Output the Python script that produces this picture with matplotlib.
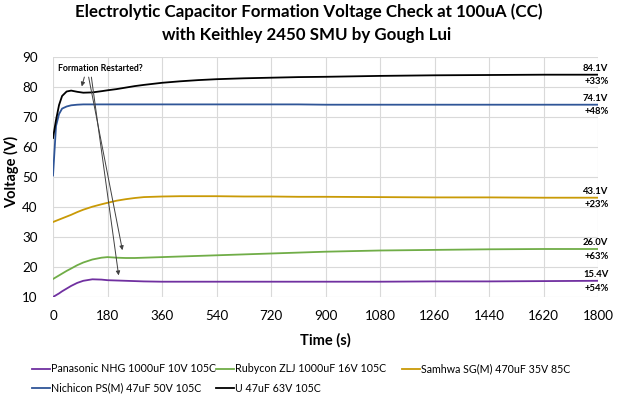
import matplotlib
matplotlib.use("Agg")
import matplotlib.pyplot as plt

plt.rcParams['font.family'] = ['Lato', 'DejaVu Sans']

t = [0, 10, 20, 30, 45, 60, 80, 100, 130, 160, 180, 210, 240, 270, 300, 360,
     420, 480, 540, 630, 720, 810, 900, 1080, 1260, 1440, 1620, 1800]

panasonic = [10.0, 10.6, 11.2, 11.9, 12.8, 13.7, 14.7, 15.4, 15.9, 15.8, 15.6, 15.5, 15.4, 15.3,
             15.2, 15.1, 15.1, 15.1, 15.1, 15.1, 15.1, 15.1, 15.1, 15.1, 15.2, 15.2, 15.3, 15.4]
rubycon = [16.0, 16.6, 17.2, 17.8, 18.7, 19.5, 20.6, 21.5, 22.5, 23.1, 23.3, 23.1, 23.0, 23.0,
           23.1, 23.3, 23.5, 23.7, 23.9, 24.2, 24.5, 24.8, 25.1, 25.5, 25.7, 25.9, 26.0, 26.0]
samhwa = [35.0, 35.4, 35.8, 36.2, 36.8, 37.4, 38.3, 39.1, 40.1, 40.9, 41.4, 42.1, 42.6, 43.0,
          43.3, 43.5, 43.6, 43.6, 43.6, 43.5, 43.5, 43.4, 43.4, 43.3, 43.2, 43.2, 43.1, 43.1]
nichicon = [50.5, 67.0, 71.0, 72.8, 73.5, 73.9, 74.1, 74.2, 74.2, 74.2, 74.2, 74.2, 74.2, 74.2,
            74.2, 74.2, 74.2, 74.2, 74.2, 74.2, 74.2, 74.2, 74.1, 74.1, 74.1, 74.1, 74.1, 74.1]
u63 = [63.0, 69.0, 74.0, 77.0, 78.5, 78.8, 78.4, 78.1, 78.2, 78.6, 78.9, 79.3, 79.8, 80.3,
       80.7, 81.4, 81.9, 82.3, 82.6, 82.9, 83.1, 83.3, 83.4, 83.7, 83.9, 84.0, 84.1, 84.1]

labels = ["Panasonic NHG 1000uF 10V 105C", "Rubycon ZLJ 1000uF 16V 105C",
          "Samhwa SG(M) 470uF 35V 85C", "Nichicon PS(M) 47uF 50V 105C", "U 47uF 63V 105C"]
series = [panasonic, rubycon, samhwa, nichicon, u63]
colors = ["#7030A0", "#70AD47", "#C99A06", "#2F5597", "#000000"]
end_labels = ["15.4V", "26.0V", "43.1V", "74.1V", "84.1V"]
pct_labels = ["+54%", "+63%", "+23%", "+48%", "+33%"]

W, H = 619, 396
fig = plt.figure(figsize=(W / 100, H / 100), dpi=100)
ax = fig.add_axes([53 / W, 1 - 297 / H, 545 / W, 240 / H])

handles = []
for s, lab, c in zip(series, labels, colors):
    h, = ax.plot(t, s, color=c, lw=1.3, label=lab)
    handles.append(h)

ax.set_xlim(0, 1800)
ax.set_ylim(10, 90)
ax.set_xticks(range(0, 1801, 180))
ax.set_yticks(range(10, 91, 10))
ax.grid(True, color="#D9D9D9", lw=0.8)
ax.set_axisbelow(True)
for sp in ax.spines.values():
    sp.set_visible(False)
ax.tick_params(length=0, labelsize=9.6, colors="#000000")
ax.tick_params(axis="x", pad=9)
ax.tick_params(axis="y", pad=11)

fig.text(12 / W, 1 - 172 / H, "Voltage (V)", rotation=90, ha="center", va="center",
         fontsize=10.5, fontweight="bold")
fig.text(325 / W, 1 - 340 / H, "Time (s)", ha="center", va="center",
         fontsize=10.5, fontweight="bold")

for s, el, pl in zip(series, end_labels, pct_labels):
    v = s[-1]
    ax.annotate(el, xy=(1800, v), xytext=(7.5, 1.5), textcoords="offset points",
                ha="right", va="bottom", fontsize=6.8, fontweight="bold")
    ax.annotate(pl, xy=(1800, v), xytext=(7.5, -2), textcoords="offset points",
                ha="right", va="top", fontsize=6.8, fontweight="bold")

ax.text(155, 86.3, "Formation Restarted?", fontsize=6.3, fontweight="bold",
        ha="center", va="center")
ap = dict(arrowstyle="-|>", color="#404040", lw=0.7, mutation_scale=6)
ax.annotate("", xy=(92.5, 79.3), xytext=(106, 84.2), arrowprops=ap)
ax.annotate("", xy=(231, 24.7), xytext=(116, 84.2), arrowprops=ap)
ax.annotate("", xy=(218, 16.3), xytext=(125.5, 84.2), arrowprops=ap)

fig.text(309 / W, 1 - 12 / H, "Electrolytic Capacitor Formation Voltage Check at 100uA (CC)",
         ha="center", va="center", fontsize=12.2, fontweight="bold")
fig.text(307 / W, 1 - 35 / H, "with Keithley 2450 SMU by Gough Lui",
         ha="center", va="center", fontsize=12.2, fontweight="bold")

leg_pos = [(32, 369), (216, 369), (402, 369), (32, 388), (216, 388)]
for h, (lx, ly) in zip(handles, leg_pos):
    fig.legend(handles=[h], loc="center left", bbox_to_anchor=(lx / W, 1 - ly / H),
               frameon=False, fontsize=7.7, handlelength=1.65, handletextpad=0.1,
               borderpad=0, borderaxespad=0)

fig.savefig("out.png", dpi=100)
